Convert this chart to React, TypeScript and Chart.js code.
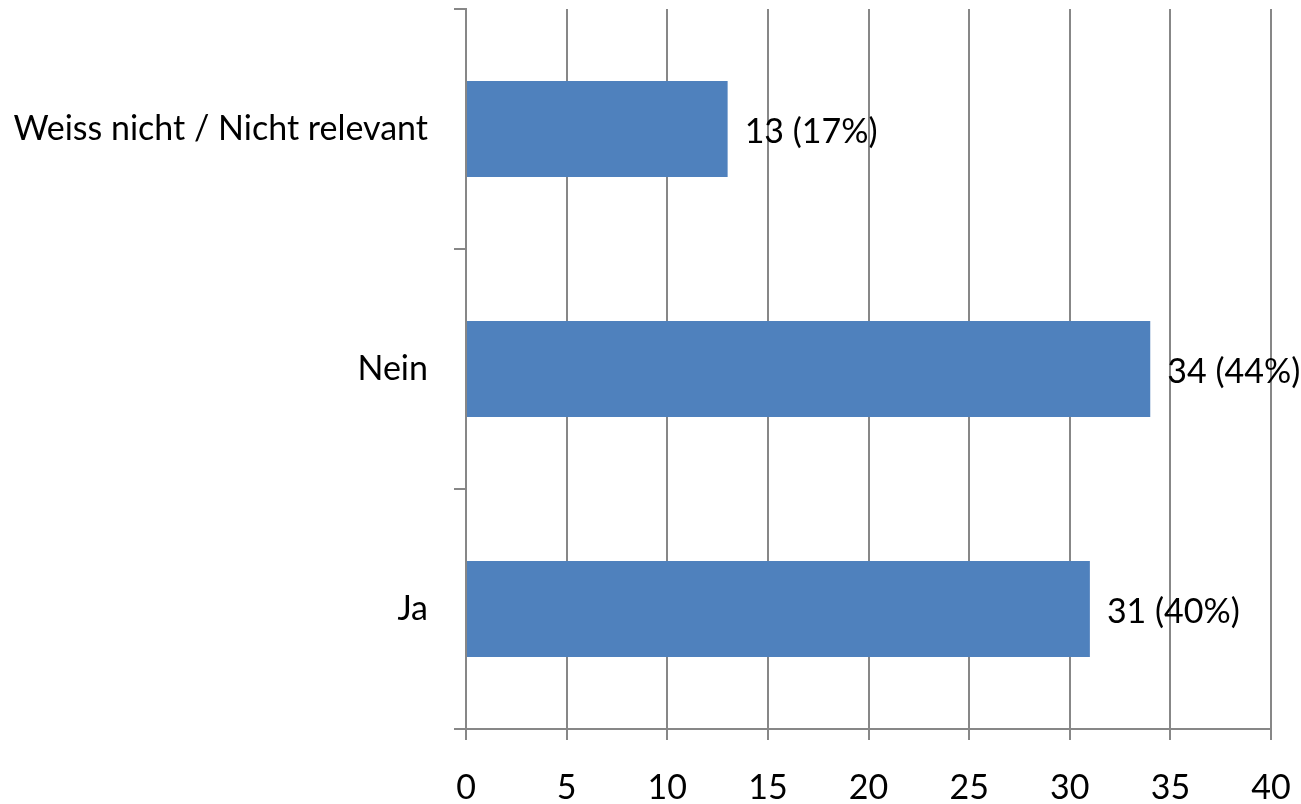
import React, { useEffect, useRef } from "react";
import { Chart, registerables } from "chart.js";

Chart.register(...registerables);

const categories: string[] = ["Weiss nicht / Nicht relevant", "Nein", "Ja"];
const counts: number[] = [13, 34, 31];
const xTicks: number[] = [0, 5, 10, 15, 20, 25, 30, 35, 40];

const FONT_FAMILY = "Lato, 'Noto Sans', sans-serif";
const FONT_SIZE = 34;
const AXIS_GRAY = "#878787";
const BAR_BLUE = "#4F81BD";

const total = counts.reduce((a, b) => a + b, 0);

// Writes "n (p%)" to the right of each bar
const valueLabels = {
  id: "valueLabels",
  afterDatasetsDraw(chart: any) {
    const ctx = chart.ctx;
    const meta = chart.getDatasetMeta(0);
    ctx.save();
    ctx.font = `${FONT_SIZE}px ${FONT_FAMILY}`;
    ctx.fillStyle = "#000000";
    ctx.textAlign = "left";
    ctx.textBaseline = "middle";
    meta.data.forEach((bar: any, i: number) => {
      const v = counts[i];
      const pct = Math.round((v / total) * 100);
      ctx.fillText(`${v} (${pct}%)`, bar.x + 17, bar.y + 3);
    });
    ctx.restore();
  },
};

export default function App() {
  const canvasRef = useRef<HTMLCanvasElement | null>(null);

  useEffect(() => {
    if (!canvasRef.current) return;
    const chart = new Chart(canvasRef.current, {
      type: "bar",
      data: {
        labels: categories,
        datasets: [
          {
            data: counts,
            backgroundColor: BAR_BLUE,
            borderWidth: 0,
            categoryPercentage: 1,
            barPercentage: 0.4,
          },
        ],
      },
      options: {
        indexAxis: "y",
        animation: false,
        responsive: true,
        maintainAspectRatio: false,
        layout: { padding: { top: 9, right: 30, bottom: 0, left: 0 } },
        plugins: {
          legend: { display: false },
          tooltip: { enabled: false },
        },
        scales: {
          x: {
            type: "linear",
            position: "bottom",
            min: xTicks[0],
            max: xTicks[xTicks.length - 1],
            afterBuildTicks: (scale: any) => {
              scale.ticks = xTicks.map((v) => ({ value: v }));
            },
            afterFit: (scale: any) => {
              scale.height = 75;
              scale.paddingLeft = 0;
              scale.paddingRight = 0;
            },
            grid: {
              color: AXIS_GRAY,
              lineWidth: 2,
              drawTicks: true,
              tickLength: 11,
            },
            border: { display: true, color: AXIS_GRAY, width: 2 },
            ticks: {
              color: "#000000",
              padding: 28,
              font: { family: FONT_FAMILY, size: FONT_SIZE },
              maxRotation: 0,
            },
          },
          y: {
            type: "category",
            afterFit: (scale: any) => {
              scale.width = 466;
              scale.paddingTop = 0;
              scale.paddingBottom = 0;
            },
            grid: {
              offset: true,
              drawOnChartArea: false,
              drawTicks: true,
              tickLength: 12,
              color: AXIS_GRAY,
              lineWidth: 2,
            },
            border: { display: true, color: AXIS_GRAY, width: 2 },
            ticks: {
              color: "#000000",
              padding: 26,
              font: { family: FONT_FAMILY, size: FONT_SIZE },
            },
          },
        },
      },
      plugins: [valueLabels],
    });
    return () => chart.destroy();
  }, []);

  return (
    <div
      style={{
        position: "absolute",
        left: 0,
        top: 0,
        width: 1301,
        height: 804,
        background: "#ffffff",
      }}
    >
      <canvas ref={canvasRef} />
    </div>
  );
}
